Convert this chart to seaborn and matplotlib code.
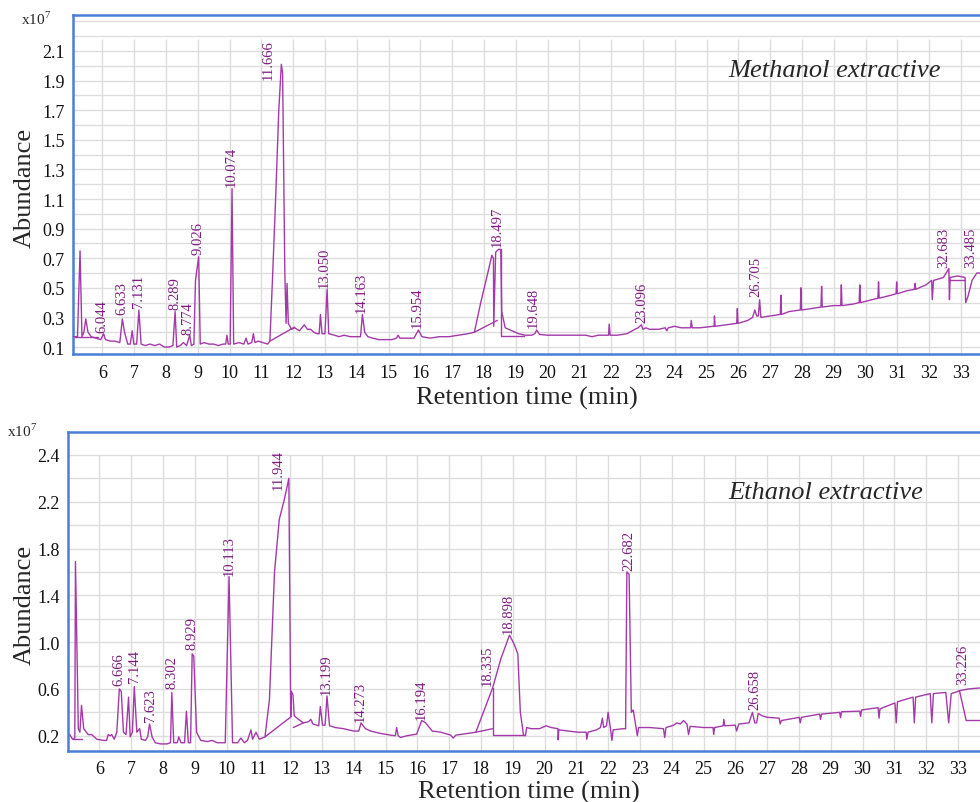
import numpy as np
import pandas as pd
import matplotlib
matplotlib.use("Agg")
import matplotlib.pyplot as plt
from matplotlib.ticker import MultipleLocator
import seaborn as sns

# ---------------- data ----------------
# Methanol extractive: total ion chromatogram (x1e7)
meth_time = [5.09, 5.22, 5.30, 5.36, 5.42, 5.48, 5.55, 5.65, 5.80, 5.95, 6.04, 6.10, 6.25, 6.40,
             6.55, 6.63, 6.70, 6.80, 6.88, 6.94, 6.99, 7.08, 7.15, 7.22, 7.35, 7.50, 7.65, 7.80,
             7.95, 8.10, 8.22, 8.29, 8.34, 8.45, 8.55, 8.65, 8.75, 8.80, 8.88, 8.93, 9.03, 9.08,
             9.20, 9.35, 9.50, 9.65, 9.80, 9.88, 9.92, 9.96, 10.02, 10.08, 10.13, 10.30, 10.45,
             10.52, 10.58, 10.70, 10.75, 10.80, 10.90, 11.05, 11.20, 11.27, 11.35, 11.45, 11.55,
             11.63, 11.67, 11.74, 11.78, 11.81, 11.85, 11.95, 12.05, 12.20, 12.35, 12.45, 12.55,
             12.65, 12.75, 12.82, 12.86, 12.91, 13.00, 13.07, 13.12, 13.30, 13.45, 13.60, 13.80,
             14.05, 14.12, 14.18, 14.25, 14.35, 14.50, 14.70, 14.90, 15.10, 15.25, 15.30, 15.36,
             15.55, 15.80, 15.94, 16.05, 16.30, 16.60, 16.90, 17.20, 17.50, 17.70, 17.90, 18.10,
             18.25, 18.30, 18.31, 18.37, 18.46, 18.53, 18.56, 18.67, 18.88, 19.09, 19.30, 19.50,
             19.60, 19.66, 19.75, 20.00, 20.30, 20.60, 20.90, 21.20, 21.40, 21.60, 21.80, 21.92,
             21.94, 21.97, 22.20, 22.50, 22.75, 22.85, 22.95, 23.00, 23.10, 23.20, 23.50, 23.70,
             23.75, 23.80, 24.00, 24.20, 24.40, 24.50, 24.52, 24.55, 24.80, 25.20, 25.24, 25.25,
             25.27, 25.60, 25.95, 25.97, 25.99, 26.30, 26.45, 26.52, 26.58, 26.63, 26.67, 26.71,
             27.00, 27.32, 27.34, 27.36, 27.60, 27.95, 27.97, 27.99, 28.30, 28.60, 28.62, 28.64,
             29.00, 29.22, 29.24, 29.26, 29.60, 29.80, 29.82, 29.84, 30.20, 30.39, 30.41, 30.43,
             30.80, 30.96, 30.98, 31.00, 31.30, 31.54, 31.56, 31.58, 31.90, 32.08, 32.10, 32.14,
             32.45, 32.62, 32.64, 32.66, 32.90, 33.13, 33.15, 33.22, 33.35, 33.50, 33.75]
meth_abund = [0.17, 0.17, 0.75, 0.17, 0.20, 0.29, 0.20, 0.17, 0.16, 0.15, 0.19, 0.15, 0.14, 0.14,
              0.13, 0.29, 0.20, 0.12, 0.12, 0.21, 0.12, 0.12, 0.35, 0.12, 0.11, 0.12, 0.11, 0.12,
              0.10, 0.10, 0.11, 0.34, 0.10, 0.11, 0.13, 0.11, 0.18, 0.11, 0.12, 0.55, 0.71, 0.12,
              0.13, 0.12, 0.12, 0.11, 0.12, 0.12, 0.18, 0.12, 0.12, 1.17, 0.12, 0.13, 0.12,
              0.16, 0.12, 0.13, 0.19, 0.13, 0.14, 0.13, 0.12, 0.14, 0.55, 1.10, 1.70,
              2.01, 1.95, 0.60, 0.26, 0.53, 0.26, 0.22, 0.23, 0.21, 0.25, 0.22, 0.22,
              0.20, 0.19, 0.19, 0.32, 0.19, 0.19, 0.49, 0.19, 0.18, 0.17, 0.18, 0.17,
              0.17, 0.17, 0.32, 0.20, 0.17, 0.16, 0.15, 0.15, 0.15, 0.16, 0.18, 0.16,
              0.16, 0.16, 0.215, 0.17, 0.16, 0.17, 0.17, 0.18, 0.19, 0.20, 0.40, 0.58,
              0.72, 0.70, 0.24, 0.74, 0.76, 0.76, 0.34, 0.23, 0.21, 0.19, 0.18, 0.18,
              0.19, 0.215, 0.185, 0.18, 0.18, 0.18, 0.18, 0.18, 0.17, 0.18, 0.18, 0.18,
              0.255, 0.18, 0.18, 0.19, 0.22, 0.23, 0.25, 0.22, 0.23, 0.22, 0.22, 0.23,
              0.21, 0.23, 0.24, 0.23, 0.23, 0.23, 0.28, 0.23, 0.23, 0.24, 0.24, 0.31,
              0.24, 0.25, 0.26, 0.36, 0.26, 0.28, 0.30, 0.35, 0.31, 0.31, 0.42, 0.30,
              0.31, 0.32, 0.45, 0.32, 0.34, 0.35, 0.50, 0.35, 0.36, 0.37, 0.51, 0.37,
              0.38, 0.38, 0.52, 0.38, 0.39, 0.40, 0.52, 0.40, 0.42, 0.43, 0.54, 0.43,
              0.45, 0.46, 0.54, 0.46, 0.48, 0.49, 0.53, 0.49, 0.52, 0.55, 0.42, 0.55,
              0.57, 0.63, 0.42, 0.57, 0.58, 0.57, 0.40, 0.44, 0.55, 0.60, 0.60]
# integration baselines (segment id, time, abundance)
meth_base_seg = [0, 0, 1, 1, 2, 2, 3, 3, 3, 4, 4]
meth_base_time = [5.13, 5.85, 11.27, 12.05, 17.70, 18.42, 18.53, 18.53, 19.25, 32.64, 33.13]
meth_base_abund = [0.165, 0.165, 0.14, 0.235, 0.20, 0.28, 0.76, 0.175, 0.175, 0.55, 0.55]
# peak labels
meth_peak_labels = ["6.044", "6.633", "7.131", "8.289", "8.774", "9.026", "10.074", "11.666",
                    "13.050", "14.163", "15.954", "18.497", "19.648", "23.096", "26.705",
                    "32.683", "33.485"]
meth_label_t = [6.00, 6.62, 7.15, 8.29, 8.69, 9.02, 10.05, 11.22, 12.97, 14.14, 15.90, 18.41,
                19.54, 22.97, 26.56, 32.47, 33.32]
meth_label_h = [0.20, 0.32, 0.37, 0.36, 0.19, 0.73, 1.19, 1.91, 0.505, 0.336, 0.235, 0.78,
                0.235, 0.27, 0.445, 0.64, 0.64]

# Ethanol extractive
eth_time = [5.07, 5.16, 5.23, 5.25, 5.34, 5.39, 5.44, 5.51, 5.65, 5.76, 5.92, 6.13, 6.23, 6.28,
            6.34, 6.39, 6.47, 6.55, 6.63, 6.69, 6.76, 6.84, 6.92, 6.97, 7.04, 7.10, 7.18, 7.27,
            7.32, 7.45, 7.52, 7.58, 7.66, 7.76, 7.92, 8.13, 8.24, 8.28, 8.34, 8.45, 8.50, 8.57,
            8.68, 8.74, 8.80, 8.87, 8.92, 8.97, 9.06, 9.19, 9.40, 9.55, 9.71, 9.87, 9.96, 10.08,
            10.19, 10.35, 10.45, 10.56, 10.66, 10.77, 10.82, 10.93, 11.03, 11.21, 11.35, 11.51,
            11.66, 11.82, 11.96, 12.02, 12.04, 12.09, 12.13, 12.26, 12.42, 12.58, 12.65, 12.72,
            12.90, 12.95, 13.02, 13.10, 13.16, 13.24, 13.42, 13.68, 14.00, 14.16, 14.23, 14.37,
            14.53, 14.84, 15.16, 15.31, 15.35, 15.40, 15.47, 15.68, 15.98, 16.14, 16.26, 16.47,
            16.74, 17.05, 17.13, 17.21, 17.58, 17.84, 18.37, 18.63, 18.90, 19.05, 19.16, 19.24,
            19.34, 19.40, 19.44, 19.58, 19.84, 20.05, 20.21, 20.42, 20.43, 20.45, 20.74, 21.05,
            21.31, 21.33, 21.37, 21.63, 21.76, 21.82, 21.86, 21.95, 22.00, 22.07, 22.12, 22.16,
            22.47, 22.55, 22.59, 22.66, 22.73, 22.79, 22.88, 22.92, 22.96, 23.32, 23.74, 23.78,
            23.82, 24.06, 24.16, 24.27, 24.37, 24.48, 24.53, 24.58, 25.00, 25.30, 25.32, 25.35,
            25.62, 25.64, 25.67, 26.00, 26.04, 26.11, 26.43, 26.54, 26.61, 26.67, 26.72, 26.85,
            27.01, 27.38, 27.41, 27.45, 28.01, 28.04, 28.08, 28.65, 28.68, 28.71, 29.28, 29.31,
            29.34, 29.91, 29.94, 29.97, 30.49, 30.52, 30.55, 31.02, 31.06, 31.10, 31.59, 31.63,
            31.67, 32.13, 32.18, 32.23, 32.62, 32.71, 32.79, 32.97, 33.05, 33.34, 33.76]
eth_abund = [0.21, 0.17, 0.18, 1.69, 0.26, 0.23, 0.46, 0.26, 0.21, 0.21, 0.17, 0.16, 0.16, 0.21,
             0.20, 0.21, 0.17, 0.23, 0.60, 0.58, 0.23, 0.21, 0.53, 0.19, 0.23, 0.62, 0.23, 0.26,
             0.17, 0.16, 0.19, 0.30, 0.19, 0.14, 0.13, 0.13, 0.14, 0.57, 0.14, 0.14, 0.19, 0.14,
             0.14, 0.41, 0.14, 0.14, 0.90, 0.88, 0.23, 0.16, 0.15, 0.16, 0.14, 0.14, 0.14, 1.56,
             0.14, 0.14, 0.18, 0.14, 0.16, 0.25, 0.17, 0.23, 0.17, 0.19, 0.51, 1.60,
             2.05, 2.22, 2.40, 0.36, 0.58, 0.55, 0.37, 0.34, 0.31, 0.32, 0.34, 0.30,
             0.285, 0.45, 0.29, 0.29, 0.54, 0.285, 0.27, 0.26, 0.24, 0.24, 0.31, 0.26,
             0.24, 0.22, 0.205, 0.20, 0.27, 0.20, 0.185, 0.20, 0.214, 0.33, 0.31, 0.24,
             0.23, 0.205, 0.18, 0.205, 0.22, 0.23, 0.61, 0.86, 1.06, 0.98, 0.90, 0.40,
             0.205, 0.20, 0.27, 0.26, 0.26, 0.285, 0.27, 0.26, 0.165, 0.25, 0.24, 0.23,
             0.23, 0.17, 0.23, 0.25, 0.27, 0.35, 0.27, 0.285, 0.40, 0.27, 0.16, 0.25,
             0.26, 0.26, 1.60, 1.58, 0.40, 0.42, 0.27, 0.20, 0.27, 0.27, 0.26, 0.185,
             0.27, 0.29, 0.31, 0.30, 0.33, 0.30, 0.21, 0.28, 0.27, 0.27, 0.21, 0.27,
             0.285, 0.34, 0.285, 0.29, 0.24, 0.30, 0.31, 0.40, 0.31, 0.31, 0.39, 0.37,
             0.357, 0.35, 0.30, 0.33, 0.357, 0.31, 0.357, 0.385, 0.34, 0.385, 0.40, 0.354,
             0.405, 0.41, 0.365, 0.42, 0.44, 0.35, 0.43, 0.48, 0.31, 0.49, 0.53, 0.31,
             0.53, 0.56, 0.31, 0.56, 0.57, 0.31, 0.56, 0.576, 0.585, 0.60, 0.61]
eth_base_seg = [0, 0, 1, 1, 2, 2, 3, 3, 4, 4, 4, 5, 5, 5]
eth_base_time = [5.16, 5.45, 11.21, 12.02, 12.10, 12.42, 17.84, 18.37, 18.37, 18.37, 19.34,
                 33.05, 33.26, 33.76]
eth_base_abund = [0.17, 0.17, 0.19, 0.36, 0.27, 0.31, 0.23, 0.26, 0.61, 0.205, 0.205,
                  0.585, 0.33, 0.33]
eth_peak_labels = ["6.666", "7.144", "7.623", "8.302", "8.929", "10.113", "11.944", "13.199",
                   "14.273", "16.194", "18.335", "18.898", "22.682", "26.658", "33.226"]
eth_label_t = [6.60, 7.12, 7.60, 8.28, 8.91, 10.09, 11.62, 13.14, 14.21, 16.12, 18.19, 18.87,
               22.65, 26.61, 33.15]
eth_label_h = [0.63, 0.656, 0.33, 0.61, 0.94, 1.57, 2.31, 0.557, 0.33, 0.34, 0.63, 1.08,
               1.62, 0.43, 0.64]

# y tick labels as printed
meth_yticks = [0.1, 0.3, 0.5, 0.7, 0.9, 1.1, 1.3, 1.5, 1.7, 1.9, 2.1]
eth_yticks = [0.2, 0.6, 1.0, 1.4, 1.8, 2.2, 2.6]
eth_ytick_labels = ["0.2", "0.6", "1.0", "1.4", "1.8", "2.2", "2.4"]
x_ticks = list(range(6, 34))

# ---------------- styling ----------------
sns.set_style("white")
plt.rcParams["font.family"] = ["Liberation Serif", "DejaVu Serif"]
plt.rcParams["mathtext.fontset"] = "custom"
plt.rcParams["mathtext.rm"] = "Liberation Serif"

LINE = "#a43aa9"
LABEL = "#7d1c80"
FRAME = "#4a7fd6"
GRID = "#dddddd"

fig = plt.figure(figsize=(9.8, 8.03), dpi=100)
W, H = 980.0, 803.0
px = 31.8  # pixels per minute

def setup(ax, xlim, ylim, grid_top, major, minor_step):
    ax.set_xlim(*xlim)
    ax.set_ylim(*ylim)
    ax.vlines(x_ticks + [34], ylim[0], grid_top, color=GRID, lw=1.0, zorder=0)
    ax.set_yticks(major)
    ax.yaxis.set_minor_locator(MultipleLocator(minor_step))
    ax.grid(axis="y", which="both", color=GRID, lw=1.0, zorder=0)
    ax.set_axisbelow(True)
    ax.set_xticks(x_ticks)
    ax.set_xticklabels([str(v) for v in x_ticks])
    ax.tick_params(axis="x", direction="out", length=4, width=0.8, color="#444444",
                   labelsize=13, pad=3, labelcolor="#111111")
    ax.tick_params(axis="y", which="major", direction="out", length=4, width=0.8,
                   color="#444444", labelsize=13, pad=2, labelcolor="#111111")
    ax.tick_params(axis="y", which="minor", direction="out", length=2.5, width=0.8,
                   color="#444444")
    for s in ["top", "bottom", "left"]:
        ax.spines[s].set_color(FRAME)
        ax.spines[s].set_linewidth(1.8)
    ax.spines["right"].set_visible(False)

# ---- top panel (methanol)
x0m, x1m = 5.088, 34.0
ax1 = fig.add_axes([73.3 / W, 1 - 355 / H, (x1m - x0m) * px / W, 339 / H])
setup(ax1, (x0m, x1m), (0.053, 2.343), 2.18, meth_yticks, 0.1)
ax1.set_yticklabels([f"{v:.1f}" for v in meth_yticks])
sns.lineplot(x=meth_time, y=meth_abund, sort=False, estimator=None, color=LINE, lw=1.0,
             ax=ax1, zorder=3)
mb = pd.DataFrame({"seg": meth_base_seg, "t": meth_base_time, "v": meth_base_abund})
sns.lineplot(data=mb, x="t", y="v", units="seg", estimator=None, sort=False, color=LINE,
             lw=1.0, ax=ax1, zorder=3)
for lab, t, h in zip(meth_peak_labels, meth_label_t, meth_label_h):
    ax1.text(t, h, lab, rotation=90, ha="center", va="bottom", color=LABEL, fontsize=10.5,
             zorder=4)
ax1.set_xlabel("")
ax1.set_ylabel("")

# ---- bottom panel (ethanol)
x0e, x1e = 5.025, 34.0
ax2 = fig.add_axes([68.3 / W, 1 - 751.7 / H, (x1e - x0e) * px / W, 318.7 / H])
setup(ax2, (x0e, x1e), (0.072, 2.796), 2.6, eth_yticks, 0.2)
ax2.set_yticklabels(eth_ytick_labels)
sns.lineplot(x=eth_time, y=eth_abund, sort=False, estimator=None, color=LINE, lw=1.0,
             ax=ax2, zorder=3)
eb = pd.DataFrame({"seg": eth_base_seg, "t": eth_base_time, "v": eth_base_abund})
sns.lineplot(data=eb, x="t", y="v", units="seg", estimator=None, sort=False, color=LINE,
             lw=1.0, ax=ax2, zorder=3)
for lab, t, h in zip(eth_peak_labels, eth_label_t, eth_label_h):
    ax2.text(t, h, lab, rotation=90, ha="center", va="bottom", color=LABEL, fontsize=10.5,
             zorder=4)
ax2.set_xlabel("")
ax2.set_ylabel("")

# ---- figure texts
fig.text(21 / W, 1 - 25 / H, r"x10$^{7}$", fontsize=11, ha="left", va="baseline")
fig.text(7 / W, 1 - 437 / H, r"x10$^{7}$", fontsize=11, ha="left", va="baseline")
fig.text(25 / W, 1 - 188 / H, "Abundance", rotation=90, fontsize=19, ha="center", va="center")
fig.text(25 / W, 1 - 605 / H, "Abundance", rotation=90, fontsize=19, ha="center", va="center")
fig.text(527 / W, 1 - 405 / H, "Retention time (min)", fontsize=19, ha="center", va="baseline")
fig.text(529 / W, 1 - 799 / H, "Retention time (min)", fontsize=19, ha="center", va="baseline")
fig.text(728 / W, 1 - 77 / H, "Methanol extractive", fontsize=19, style="italic",
         ha="left", va="baseline")
fig.text(728 / W, 1 - 499 / H, "Ethanol extractive", fontsize=19, style="italic",
         ha="left", va="baseline")

fig.savefig("out.png", dpi=100)
